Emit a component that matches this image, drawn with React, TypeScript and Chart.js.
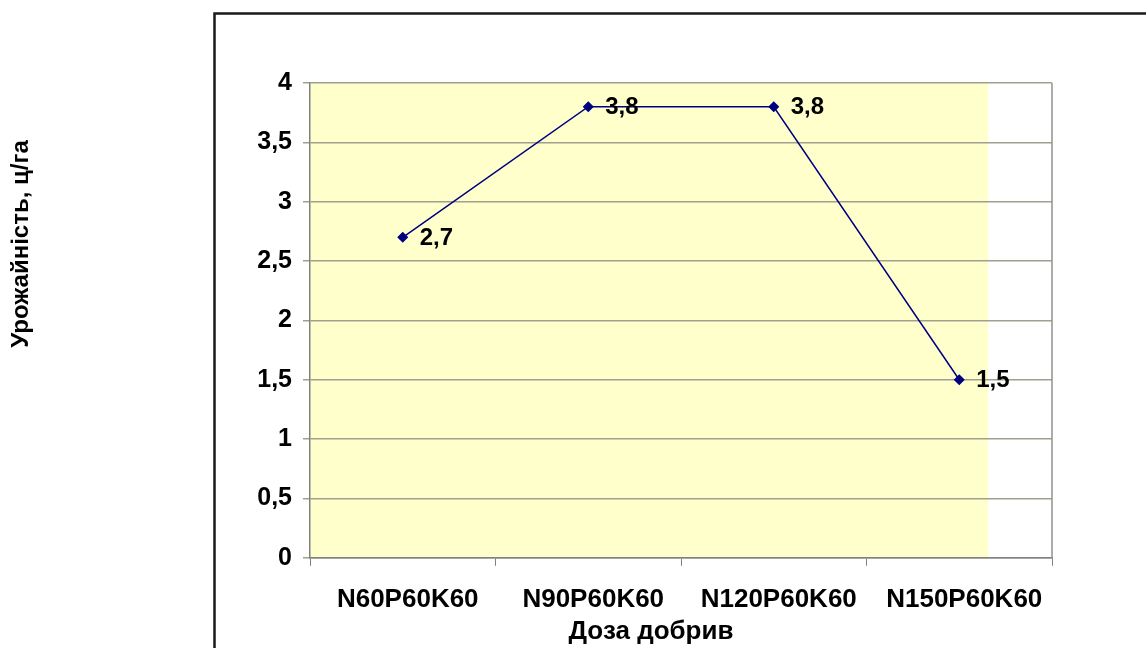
import React, { useEffect, useRef } from "react";
import { Chart, registerables } from "chart.js";

Chart.register(...registerables);

const categories = ["N60P60K60", "N90P60K60", "N120P60K60", "N150P60K60"];
const yieldValues = [2.7, 3.8, 3.8, 1.5];
const yTitle = "Урожайність, ц/га";
const xTitle = "Доза добрив";

const FONT = "Arial, 'Liberation Sans', sans-serif";
const fmt = (v: number) => String(v).replace(".", ",");

const decorPlugin = {
  id: "decor",
  beforeDraw(chart: any) {
    const { ctx, chartArea } = chart;
    const { left, top, right, bottom } = chartArea;
    ctx.save();
    ctx.fillStyle = "#ffffcc";
    ctx.fillRect(left, top, (right - left) * 0.914, bottom - top);
    ctx.strokeStyle = "#1a1a1a";
    ctx.lineWidth = 2.5;
    ctx.strokeRect(214.5, 13.5, 2000, 2000);
    ctx.restore();
  },
  afterDraw(chart: any) {
    const { ctx, chartArea } = chart;
    const { right, top, bottom } = chartArea;
    ctx.save();
    ctx.strokeStyle = "#909090";
    ctx.lineWidth = 1.5;
    ctx.beginPath();
    ctx.moveTo(right, top);
    ctx.lineTo(right, bottom);
    ctx.stroke();
    // titles
    ctx.fillStyle = "#000";
    ctx.font = `bold 26px ${FONT}`;
    ctx.textAlign = "center";
    ctx.textBaseline = "middle";
    ctx.fillText(xTitle, 651, 632);
    ctx.translate(21, 244);
    ctx.rotate(-Math.PI / 2);
    ctx.font = `bold 24px ${FONT}`;
    ctx.fillText(yTitle, 0, 0);
    ctx.restore();
  },
  afterDatasetsDraw(chart: any) {
    const { ctx } = chart;
    const meta = chart.getDatasetMeta(0);
    ctx.save();
    ctx.fillStyle = "#000";
    ctx.font = `bold 24px ${FONT}`;
    ctx.textAlign = "left";
    ctx.textBaseline = "middle";
    meta.data.forEach((pt: any, i: number) => {
      ctx.fillText(fmt(yieldValues[i]), pt.x + 17, pt.y + 1);
    });
    ctx.restore();
  },
};

export default function App() {
  const ref = useRef<HTMLCanvasElement>(null);
  useEffect(() => {
    if (!ref.current) return;
    const chart = new Chart(ref.current, {
      type: "line",
      data: {
        labels: categories,
        datasets: [
          {
            data: yieldValues,
            borderColor: "#000080",
            borderWidth: 1.5,
            backgroundColor: "#000080",
            pointStyle: "rectRot",
            pointRadius: 4.5,
            pointBackgroundColor: "#000080",
            pointBorderColor: "#000080",
            tension: 0,
          },
        ],
      },
      options: {
        animation: false,
        responsive: true,
        maintainAspectRatio: false,
        layout: { padding: { left: 258, top: 83, right: 94, bottom: 15 } },
        plugins: { legend: { display: false }, tooltip: { enabled: false } },
        scales: {
          x: {
            offset: true,
            grid: {
              offset: true,
              drawOnChartArea: false,
              drawTicks: true,
              tickLength: 8,
              color: "#808080",
            },
            border: { color: "#808080", width: 1.5 },
            ticks: {
              color: "#000",
              padding: 18,
              labelOffset: 5,
              font: { family: FONT, size: 26, weight: "bold" },
            },
          },
          y: {
            min: 0,
            max: 4,
            afterFit: (scale: any) => {
              scale.width = 52;
            },
            grid: { color: "#a0a090", lineWidth: 1.5, tickLength: 7 },
            border: { color: "#808080", width: 1.5 },
            ticks: {
              stepSize: 0.5,
              color: "#000",
              padding: 11,
              font: { family: FONT, size: 25, weight: "bold" },
              callback: (v: any) => fmt(Number(v)),
            },
          },
        },
      },
      plugins: [decorPlugin],
    });
    return () => chart.destroy();
  }, []);
  return (
    <div style={{ position: "fixed", left: 0, top: 0, width: 1146, height: 648, background: "#fff" }}>
      <canvas ref={ref} />
    </div>
  );
}
